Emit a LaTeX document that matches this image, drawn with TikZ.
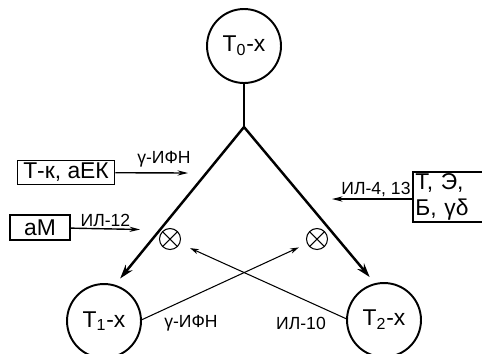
\documentclass[tikz,border=0pt]{standalone}
\usepackage{fontspec}
\setmainfont{Liberation Sans}
\usetikzlibrary{arrows.meta}
\begin{document}
\begin{tikzpicture}[x=0.02cm, y=-0.02cm, >={Stealth[length=8pt, width=5pt]}]
            \tikzstyle{cell}=[circle, draw, line width=1.1pt, minimum size=1.48cm, inner sep=0pt, font=\fontsize{13}{15}\selectfont]
            \tikzstyle{src}=[draw, line width=0.9pt, inner sep=1.5pt, font=\fontsize{13}{15}\selectfont]
            \tikzstyle{mix}=[circle, draw, line width=0.6pt, minimum size=0.42cm, inner sep=0pt,
                path picture={\draw[line width=0.6pt]
                    ([shift={(45:0.21cm)}]path picture bounding box.center) -- ([shift={(225:0.21cm)}]path picture bounding box.center)
                    ([shift={(135:0.21cm)}]path picture bounding box.center) -- ([shift={(-45:0.21cm)}]path picture bounding box.center);}]
            \tikzstyle{lbl}=[inner sep=1pt, font=\fontsize{10}{12}\selectfont]
            \tikzstyle{main}=[->, line width=1.4pt]
            \tikzstyle{feed}=[->, line width=0.8pt, >={Stealth[length=6pt, width=3pt]}]
            \tikzstyle{back}=[->, line width=0.6pt, >={Stealth[length=5pt, width=3pt]}]

            \useasboundingbox (0,0) rectangle (482,353);

            % Клетки
            \node[cell] (t0) at (244,46) {Т\textsubscript{0}-х};
            \node[cell] (t1) at (104,321) {Т\textsubscript{1}-х};
            \node[cell] (t2) at (384,320) {Т\textsubscript{2}-х};
            \coordinate (fork) at (244,127);

            % Источники
            \node[src, minimum width=1.94cm] (tk) at (66,172.5) {Т-к, аЕК};
            \node[src, minimum width=1.2cm, minimum height=0.5cm] (am) at (40,227.5) {аМ};
            \node[src, anchor=west, align=left, text width=1.4cm, inner ysep=1pt] (teb) at (412,197) {Т, Э,\\Б, γδ};
            \coordinate (tkend) at (188,173);
            \coordinate (amend) at (140,229.5);
            \coordinate (tebend) at (332,199);

            % Блоки
            \node[mix] (m1) at (170,239) {};
            \node[mix] (m2) at (317,239) {};

            % Стрелки
            \draw[line width=1.4pt] (t0) -- (fork);
            \draw[main, shorten >=0.16cm] (fork) -- (t1.73);
            \draw[main, shorten >=0.16cm] (fork) -- (t2.104);
            \draw[feed] (tk) -- node[lbl, above=2pt, pos=0.67] {γ-ИФН} (tkend);
            \draw[feed] (am) -- node[lbl, above] {ИЛ-12} (amend);
            \draw[feed] (teb.west |- tebend) -- node[lbl, above, pos=0.45] {ИЛ-4, 13} (tebend);
            \draw[back, shorten >=0.18cm] (t1.2) -- (m2);
            \draw[back, shorten >=0.22cm] (t2.178) -- (m1);
            \node[lbl] (ifn) at (191,323) {γ-ИФН};
            \node[lbl] (il10) at (301,323) {ИЛ-10};
        \end{tikzpicture}
\end{document}
